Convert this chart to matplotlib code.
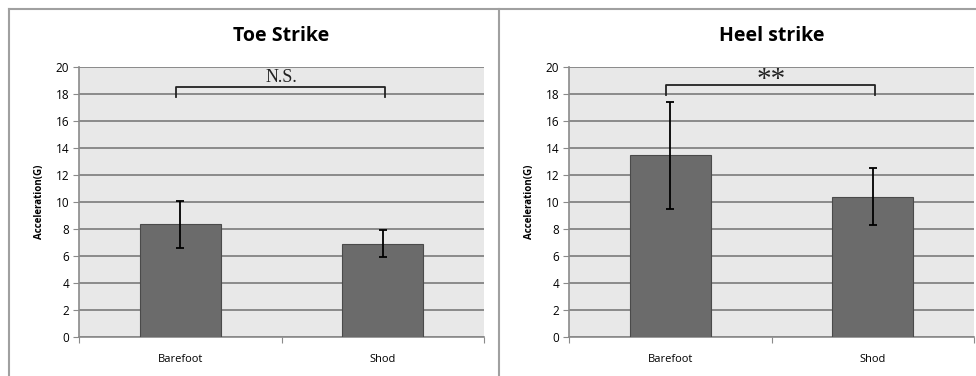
import matplotlib.pyplot as plt
from matplotlib.lines import Line2D

# data
categories = ['Barefoot', 'Shod']
toe_means = [8.4, 6.9]
toe_upper = [10.1, 7.9]
toe_lower = [6.6, 5.9]
heel_means = [13.5, 10.4]
heel_upper = [17.4, 12.5]
heel_lower = [9.5, 8.3]
yticks = list(range(0, 21, 2))

panels = [
    ('Toe Strike', toe_means, toe_upper, toe_lower, 'N.S.', 18.5, 17.8, 79),
    ('Heel strike', heel_means, heel_upper, heel_lower, '**', 18.7, 17.9, 569),
]

W, H = 976, 376
fig = plt.figure(figsize=(W / 100, H / 100), dpi=100)
fig.patch.set_facecolor('white')

sans = ['Open Sans', 'DejaVu Sans']
serif = ['Liberation Serif', 'DejaVu Serif']

for title, means, upper, lower, sig, sig_y, sig_low, x0 in panels:
    ax = fig.add_axes([x0 / W, (H - 337) / H, 405 / W, 270 / H])
    ax.set_facecolor('#e8e8e8')
    x = range(len(categories))
    err = [[m - l for m, l in zip(means, lower)], [u - m for m, u in zip(means, upper)]]
    ax.bar(x, means, width=0.4, color='#6b6b6b', edgecolor='#4a4a4a', linewidth=0.8, zorder=3)
    ax.errorbar(x, means, yerr=err, fmt='none', ecolor='black', elinewidth=1.3,
                capsize=3, capthick=1.3, zorder=4)
    ax.set_xlim(-0.5, 1.5)
    ax.set_ylim(0, 20)
    ax.set_yticks(yticks)
    ax.set_yticklabels([str(t) for t in yticks], fontsize=8.5, family=sans)
    ax.yaxis.grid(True, color='#8a8a8a', linewidth=1.4, zorder=0)
    ax.set_axisbelow(True)
    ax.set_xticks([-0.5, 0.5, 1.5])
    ax.set_xticklabels([])
    ax.set_xticks(list(x), minor=True)
    ax.set_xticklabels(categories, minor=True, fontsize=8, family=sans)
    ax.tick_params(axis='x', which='minor', length=0, pad=12)
    ax.tick_params(axis='x', which='major', length=4, color='#8a8a8a', direction='out')
    ax.tick_params(axis='y', length=4, color='#8a8a8a', pad=3)
    for s in ['top', 'right']:
        ax.spines[s].set_visible(False)
    for s in ['left', 'bottom']:
        ax.spines[s].set_color('#8a8a8a')
        ax.spines[s].set_linewidth(1.2)
    ax.set_ylabel('Acceleration(G)', fontsize=7, fontweight='bold', family=sans, labelpad=8)
    ax.set_title(title, fontsize=14, fontweight='bold', family=sans, pad=19)

    # significance bracket
    bx0, bx1 = -0.02, 1.01
    ax.plot([bx0, bx0, bx1, bx1], [sig_low, sig_y, sig_y, sig_low], color='#222222',
            linewidth=1.3, zorder=5, clip_on=False)
    if sig == 'N.S.':
        ax.text(0.5, sig_y + 0.1, sig, ha='center', va='bottom', fontsize=13,
                family=serif, color='#222222', zorder=5)
    else:
        ax.text(0.5, sig_y - 0.6, sig, ha='center', va='bottom', fontsize=21,
                family=serif, color='#222222', zorder=5)

# panel frames
frame = '#a0a0a0'
fig.add_artist(Line2D([9 / W, 1], [1 - 9 / H, 1 - 9 / H], color=frame, linewidth=1.5))
fig.add_artist(Line2D([9 / W, 9 / W], [0, 1 - 9 / H], color=frame, linewidth=1.5))
fig.add_artist(Line2D([499 / W, 499 / W], [0, 1 - 9 / H], color=frame, linewidth=1.5))

fig.savefig('out.png', dpi=100)
